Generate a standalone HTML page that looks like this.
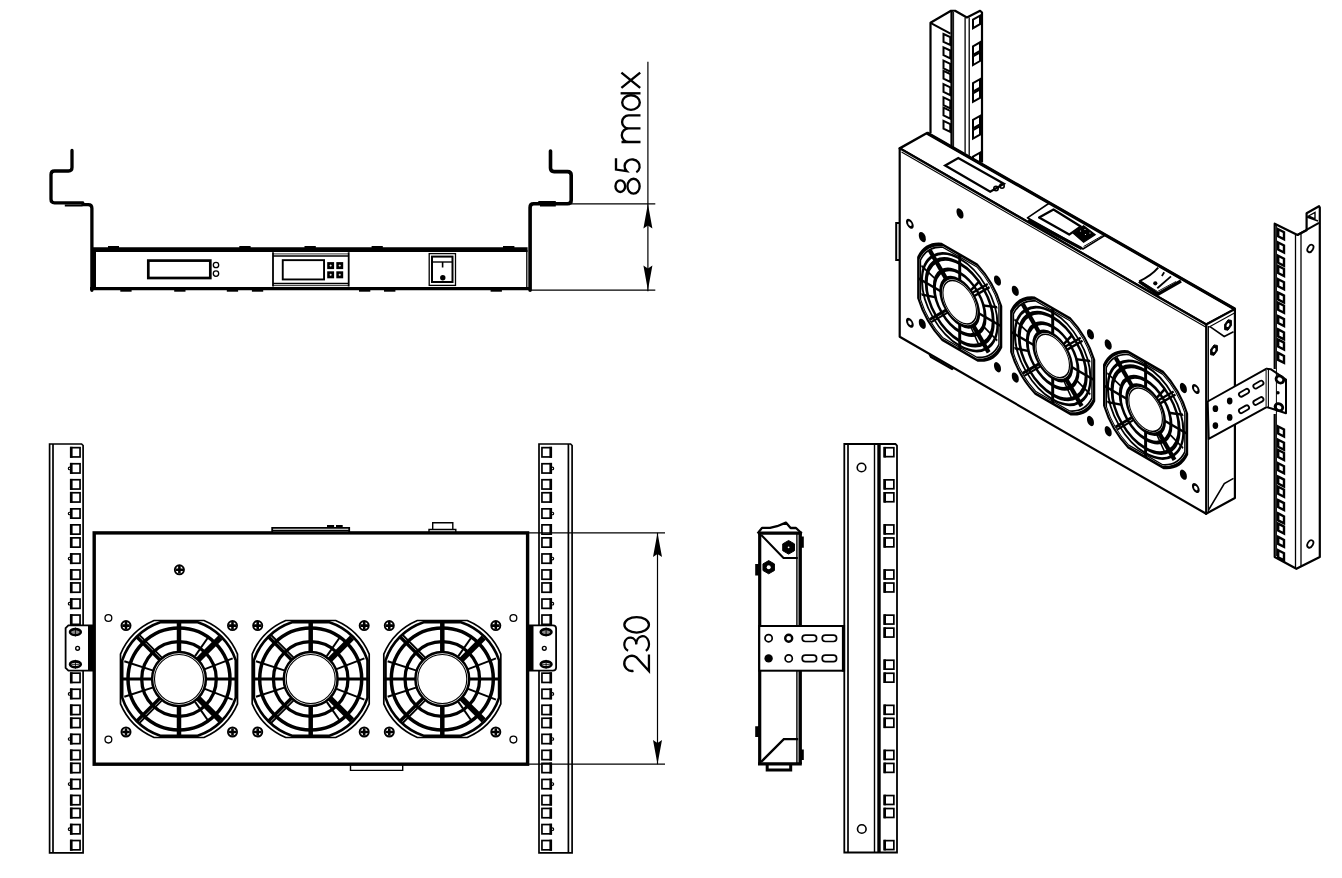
<!DOCTYPE html><html><head><meta charset="utf-8"><title>Fan unit drawing</title><style>html,body{margin:0;padding:0;background:#fff;width:1342px;height:878px;overflow:hidden}svg{display:block}text{font-family:"Liberation Sans",sans-serif}</style></head><body><svg width="1342" height="878" viewBox="0 0 1342 878" stroke-linecap="butt"><path d="M72,150.5 V167.5 Q72,171 68.5,171 H54.5 Q51,171 51,174.5 V199.3 Q51,202.8 54.5,202.8 H82.7 L83,204.6 H88.2 Q91.9,204.6 91.9,208.3 V290.3" fill="none" stroke="#000" stroke-width="3.3" stroke-linejoin="round" stroke-linecap="round"/><path d="M550.5,151 V168 Q550.5,171.6 554.1,171.6 H567.5 Q571.2,171.6 571.2,175.3 V200.2 Q571.2,203.8 567.5,203.8 H533.7 Q530.1,203.8 530.1,207.4 V290.3" fill="none" stroke="#000" stroke-width="3.6" stroke-linejoin="round" stroke-linecap="round"/><path d="M64.8,205.6 H82.7 M538.3,202 H555.8 M540,205.6 H555.8" stroke="#000" stroke-width="2"/><line x1="92" y1="249.6" x2="527.6" y2="249.6" stroke="#000" stroke-width="4.6"/><line x1="90" y1="288.7" x2="531" y2="288.7" stroke="#000" stroke-width="3.3"/><line x1="94.3" y1="249" x2="94.3" y2="289" stroke="#000" stroke-width="3.4"/><line x1="526.8" y1="250" x2="526.8" y2="289" stroke="#000" stroke-width="1.3"/><rect x="108" y="246" width="11" height="2" fill="#000"/><rect x="239.3" y="246" width="11.3" height="2" fill="#000"/><rect x="304.5" y="246" width="11.3" height="2" fill="#000"/><rect x="371.6" y="246" width="11.2" height="2" fill="#000"/><rect x="503" y="246" width="11.4" height="2" fill="#000"/><rect x="120.3" y="289.5" width="11.3" height="2.2" fill="#000"/><rect x="174.2" y="289.5" width="11.3" height="2.2" fill="#000"/><rect x="226.8" y="289.5" width="11.3" height="2.2" fill="#000"/><rect x="251.9" y="289.5" width="11.3" height="2.2" fill="#000"/><rect x="359" y="289.5" width="11.3" height="2.2" fill="#000"/><rect x="384" y="289.5" width="11.4" height="2.2" fill="#000"/><rect x="490.6" y="289.5" width="11.3" height="2.2" fill="#000"/><rect x="148.3" y="260.6" width="62" height="17.4" fill="none" stroke="#000" stroke-width="2.7"/><circle cx="216" cy="265" r="2.7" fill="none" stroke="#000" stroke-width="1.3"/><circle cx="216" cy="273.6" r="2.7" fill="none" stroke="#000" stroke-width="1.3"/><path d="M273,252.2 V286.6 M348.7,252.2 V286.6" stroke="#000" stroke-width="1.8"/><path d="M273,253.9 H348.7 M273,285.6 H348.7" stroke="#000" stroke-width="0.8"/><path d="M273,256 H348.7 M273,283.5 H348.7" stroke="#000" stroke-width="1.3"/><rect x="282.75" y="260.15" width="41.3" height="19.3" fill="none" stroke="#000" stroke-width="1.9"/><rect x="327.2" y="262.1" width="6.9" height="7" fill="#000"/><path d="M329.6,265.6H331.7M330.65,264.55V266.65" stroke="#fff" stroke-width="0.8"/><rect x="327.2" y="271.3" width="6.9" height="7" fill="#000"/><path d="M329.6,274.8H331.7M330.65,273.75V275.85" stroke="#fff" stroke-width="0.8"/><rect x="336.3" y="262.1" width="6.9" height="7" fill="#000"/><path d="M338.7,265.6H340.8M339.75,264.55V266.65" stroke="#fff" stroke-width="0.8"/><rect x="336.3" y="271.3" width="6.9" height="7" fill="#000"/><path d="M338.7,274.8H340.8M339.75,273.75V275.85" stroke="#fff" stroke-width="0.8"/><rect x="429.2" y="253.6" width="26.3" height="31.8" fill="none" stroke="#000" stroke-width="1.3"/><rect x="432" y="256.6" width="20.5" height="25.4" fill="none" stroke="#000" stroke-width="2"/><line x1="432" y1="262" x2="452.5" y2="262" stroke="#000" stroke-width="1.4"/><line x1="442.6" y1="262" x2="442.6" y2="267.5" stroke="#000" stroke-width="1.6"/><circle cx="442.8" cy="277.8" r="2.7" fill="#000"/><line x1="647.9" y1="61.8" x2="647.9" y2="291.3" stroke="#000" stroke-width="1.2"/><line x1="571" y1="203.8" x2="655.3" y2="203.8" stroke="#000" stroke-width="1.2"/><line x1="530" y1="290.2" x2="655.3" y2="290.2" stroke="#000" stroke-width="1.2"/><path d="M647.9,203.8 L652.4,228.5 L647.9,225.5 L643.4,228.5 Z" fill="#000"/><path d="M647.9,290.2 L652.4,265.5 L647.9,268.5 L643.4,265.5 Z" fill="#000"/><g transform="translate(640.8,194.7) rotate(-90)" fill="none" stroke="#000" stroke-width="2.35"><ellipse cx="8.55" cy="-20.5" rx="5.85" ry="4.85"/><ellipse cx="8.55" cy="-7.25" rx="7.4" ry="6.1"/><path d="M36.4,-24.8 H25.1 L23.6,-14.2 A6.95,7.55 0 1 1 22.5,-4.5"/><path d="M52.7,-0.3 V-19.3 M52.7,-12.2 A6.8,6.8 0 0 1 66.3,-12.2 V-0.3 M66.3,-12.2 A6.5,6.5 0 0 1 79.3,-12.2 V-0.3"/><ellipse cx="92.2" cy="-9.8" rx="7.3" ry="8.8"/><path d="M101.4,-20.2 V-0.3"/><path d="M106.8,-19.4 L122,-0.6 M122,-19.4 L106.8,-0.6"/></g><path d="M49.6,852.8 V444 H81.6 L83.1,445.5 V852.8 Z" fill="none" stroke="#000" stroke-width="1.7"/><line x1="53" y1="444" x2="53" y2="852.8" stroke="#000" stroke-width="1.7"/><rect x="70.75" y="447.65" width="9.3" height="9.3" fill="none" stroke="#000" stroke-width="1.7"/><line x1="71.3" y1="446.8" x2="71.3" y2="457.8" stroke="#000" stroke-width="2.6"/><rect x="70.75" y="463.75" width="9.3" height="9.3" fill="none" stroke="#000" stroke-width="1.7"/><line x1="71.3" y1="462.9" x2="71.3" y2="473.9" stroke="#000" stroke-width="2.6"/><circle cx="69.6" cy="468.4" r="1.3" fill="none" stroke="#000" stroke-width="1.1"/><rect x="70.75" y="479.75" width="9.3" height="9.3" fill="none" stroke="#000" stroke-width="1.7"/><line x1="71.3" y1="478.9" x2="71.3" y2="489.9" stroke="#000" stroke-width="2.6"/><rect x="70.75" y="492.75" width="9.3" height="9.3" fill="none" stroke="#000" stroke-width="1.7"/><line x1="71.3" y1="491.9" x2="71.3" y2="502.9" stroke="#000" stroke-width="2.6"/><rect x="70.75" y="508.85" width="9.3" height="9.3" fill="none" stroke="#000" stroke-width="1.7"/><line x1="71.3" y1="508" x2="71.3" y2="519" stroke="#000" stroke-width="2.6"/><circle cx="69.6" cy="513.5" r="1.3" fill="none" stroke="#000" stroke-width="1.1"/><rect x="70.75" y="524.85" width="9.3" height="9.3" fill="none" stroke="#000" stroke-width="1.7"/><line x1="71.3" y1="524" x2="71.3" y2="535" stroke="#000" stroke-width="2.6"/><rect x="70.75" y="537.85" width="9.3" height="9.3" fill="none" stroke="#000" stroke-width="1.7"/><line x1="71.3" y1="537" x2="71.3" y2="548" stroke="#000" stroke-width="2.6"/><rect x="70.75" y="553.95" width="9.3" height="9.3" fill="none" stroke="#000" stroke-width="1.7"/><line x1="71.3" y1="553.1" x2="71.3" y2="564.1" stroke="#000" stroke-width="2.6"/><circle cx="69.6" cy="558.6" r="1.3" fill="none" stroke="#000" stroke-width="1.1"/><rect x="70.75" y="569.95" width="9.3" height="9.3" fill="none" stroke="#000" stroke-width="1.7"/><line x1="71.3" y1="569.1" x2="71.3" y2="580.1" stroke="#000" stroke-width="2.6"/><rect x="70.75" y="582.95" width="9.3" height="9.3" fill="none" stroke="#000" stroke-width="1.7"/><line x1="71.3" y1="582.1" x2="71.3" y2="593.1" stroke="#000" stroke-width="2.6"/><rect x="70.75" y="599.05" width="9.3" height="9.3" fill="none" stroke="#000" stroke-width="1.7"/><line x1="71.3" y1="598.2" x2="71.3" y2="609.2" stroke="#000" stroke-width="2.6"/><circle cx="69.6" cy="603.7" r="1.3" fill="none" stroke="#000" stroke-width="1.1"/><rect x="70.75" y="615.05" width="9.3" height="9.3" fill="none" stroke="#000" stroke-width="1.7"/><line x1="71.3" y1="614.2" x2="71.3" y2="625.2" stroke="#000" stroke-width="2.6"/><rect x="70.75" y="628.05" width="9.3" height="9.3" fill="none" stroke="#000" stroke-width="1.7"/><line x1="71.3" y1="627.2" x2="71.3" y2="638.2" stroke="#000" stroke-width="2.6"/><rect x="70.75" y="644.15" width="9.3" height="9.3" fill="none" stroke="#000" stroke-width="1.7"/><line x1="71.3" y1="643.3" x2="71.3" y2="654.3" stroke="#000" stroke-width="2.6"/><circle cx="69.6" cy="648.8" r="1.3" fill="none" stroke="#000" stroke-width="1.1"/><rect x="70.75" y="660.15" width="9.3" height="9.3" fill="none" stroke="#000" stroke-width="1.7"/><line x1="71.3" y1="659.3" x2="71.3" y2="670.3" stroke="#000" stroke-width="2.6"/><rect x="70.75" y="673.15" width="9.3" height="9.3" fill="none" stroke="#000" stroke-width="1.7"/><line x1="71.3" y1="672.3" x2="71.3" y2="683.3" stroke="#000" stroke-width="2.6"/><rect x="70.75" y="689.25" width="9.3" height="9.3" fill="none" stroke="#000" stroke-width="1.7"/><line x1="71.3" y1="688.4" x2="71.3" y2="699.4" stroke="#000" stroke-width="2.6"/><circle cx="69.6" cy="693.9" r="1.3" fill="none" stroke="#000" stroke-width="1.1"/><rect x="70.75" y="705.25" width="9.3" height="9.3" fill="none" stroke="#000" stroke-width="1.7"/><line x1="71.3" y1="704.4" x2="71.3" y2="715.4" stroke="#000" stroke-width="2.6"/><rect x="70.75" y="718.25" width="9.3" height="9.3" fill="none" stroke="#000" stroke-width="1.7"/><line x1="71.3" y1="717.4" x2="71.3" y2="728.4" stroke="#000" stroke-width="2.6"/><rect x="70.75" y="734.35" width="9.3" height="9.3" fill="none" stroke="#000" stroke-width="1.7"/><line x1="71.3" y1="733.5" x2="71.3" y2="744.5" stroke="#000" stroke-width="2.6"/><circle cx="69.6" cy="739" r="1.3" fill="none" stroke="#000" stroke-width="1.1"/><rect x="70.75" y="750.35" width="9.3" height="9.3" fill="none" stroke="#000" stroke-width="1.7"/><line x1="71.3" y1="749.5" x2="71.3" y2="760.5" stroke="#000" stroke-width="2.6"/><rect x="70.75" y="763.35" width="9.3" height="9.3" fill="none" stroke="#000" stroke-width="1.7"/><line x1="71.3" y1="762.5" x2="71.3" y2="773.5" stroke="#000" stroke-width="2.6"/><rect x="70.75" y="779.45" width="9.3" height="9.3" fill="none" stroke="#000" stroke-width="1.7"/><line x1="71.3" y1="778.6" x2="71.3" y2="789.6" stroke="#000" stroke-width="2.6"/><circle cx="69.6" cy="784.1" r="1.3" fill="none" stroke="#000" stroke-width="1.1"/><rect x="70.75" y="795.45" width="9.3" height="9.3" fill="none" stroke="#000" stroke-width="1.7"/><line x1="71.3" y1="794.6" x2="71.3" y2="805.6" stroke="#000" stroke-width="2.6"/><rect x="70.75" y="808.45" width="9.3" height="9.3" fill="none" stroke="#000" stroke-width="1.7"/><line x1="71.3" y1="807.6" x2="71.3" y2="818.6" stroke="#000" stroke-width="2.6"/><rect x="70.75" y="824.55" width="9.3" height="9.3" fill="none" stroke="#000" stroke-width="1.7"/><line x1="71.3" y1="823.7" x2="71.3" y2="834.7" stroke="#000" stroke-width="2.6"/><circle cx="69.6" cy="829.2" r="1.3" fill="none" stroke="#000" stroke-width="1.1"/><rect x="70.75" y="840.55" width="9.3" height="9.3" fill="none" stroke="#000" stroke-width="1.7"/><line x1="71.3" y1="839.7" x2="71.3" y2="850.7" stroke="#000" stroke-width="2.6"/><path d="M539,852.8 V444 H570.6 L572.1,445.5 V852.8 Z" fill="none" stroke="#000" stroke-width="1.7"/><line x1="568.4" y1="444" x2="568.4" y2="852.8" stroke="#000" stroke-width="1.7"/><rect x="541.95" y="447.65" width="9.3" height="9.3" fill="none" stroke="#000" stroke-width="1.7"/><line x1="550.7" y1="446.8" x2="550.7" y2="457.8" stroke="#000" stroke-width="2.6"/><rect x="541.95" y="463.75" width="9.3" height="9.3" fill="none" stroke="#000" stroke-width="1.7"/><line x1="550.7" y1="462.9" x2="550.7" y2="473.9" stroke="#000" stroke-width="2.6"/><circle cx="552.4" cy="468.4" r="1.3" fill="none" stroke="#000" stroke-width="1.1"/><rect x="541.95" y="479.75" width="9.3" height="9.3" fill="none" stroke="#000" stroke-width="1.7"/><line x1="550.7" y1="478.9" x2="550.7" y2="489.9" stroke="#000" stroke-width="2.6"/><rect x="541.95" y="492.75" width="9.3" height="9.3" fill="none" stroke="#000" stroke-width="1.7"/><line x1="550.7" y1="491.9" x2="550.7" y2="502.9" stroke="#000" stroke-width="2.6"/><rect x="541.95" y="508.85" width="9.3" height="9.3" fill="none" stroke="#000" stroke-width="1.7"/><line x1="550.7" y1="508" x2="550.7" y2="519" stroke="#000" stroke-width="2.6"/><circle cx="552.4" cy="513.5" r="1.3" fill="none" stroke="#000" stroke-width="1.1"/><rect x="541.95" y="524.85" width="9.3" height="9.3" fill="none" stroke="#000" stroke-width="1.7"/><line x1="550.7" y1="524" x2="550.7" y2="535" stroke="#000" stroke-width="2.6"/><rect x="541.95" y="537.85" width="9.3" height="9.3" fill="none" stroke="#000" stroke-width="1.7"/><line x1="550.7" y1="537" x2="550.7" y2="548" stroke="#000" stroke-width="2.6"/><rect x="541.95" y="553.95" width="9.3" height="9.3" fill="none" stroke="#000" stroke-width="1.7"/><line x1="550.7" y1="553.1" x2="550.7" y2="564.1" stroke="#000" stroke-width="2.6"/><circle cx="552.4" cy="558.6" r="1.3" fill="none" stroke="#000" stroke-width="1.1"/><rect x="541.95" y="569.95" width="9.3" height="9.3" fill="none" stroke="#000" stroke-width="1.7"/><line x1="550.7" y1="569.1" x2="550.7" y2="580.1" stroke="#000" stroke-width="2.6"/><rect x="541.95" y="582.95" width="9.3" height="9.3" fill="none" stroke="#000" stroke-width="1.7"/><line x1="550.7" y1="582.1" x2="550.7" y2="593.1" stroke="#000" stroke-width="2.6"/><rect x="541.95" y="599.05" width="9.3" height="9.3" fill="none" stroke="#000" stroke-width="1.7"/><line x1="550.7" y1="598.2" x2="550.7" y2="609.2" stroke="#000" stroke-width="2.6"/><circle cx="552.4" cy="603.7" r="1.3" fill="none" stroke="#000" stroke-width="1.1"/><rect x="541.95" y="615.05" width="9.3" height="9.3" fill="none" stroke="#000" stroke-width="1.7"/><line x1="550.7" y1="614.2" x2="550.7" y2="625.2" stroke="#000" stroke-width="2.6"/><rect x="541.95" y="628.05" width="9.3" height="9.3" fill="none" stroke="#000" stroke-width="1.7"/><line x1="550.7" y1="627.2" x2="550.7" y2="638.2" stroke="#000" stroke-width="2.6"/><rect x="541.95" y="644.15" width="9.3" height="9.3" fill="none" stroke="#000" stroke-width="1.7"/><line x1="550.7" y1="643.3" x2="550.7" y2="654.3" stroke="#000" stroke-width="2.6"/><circle cx="552.4" cy="648.8" r="1.3" fill="none" stroke="#000" stroke-width="1.1"/><rect x="541.95" y="660.15" width="9.3" height="9.3" fill="none" stroke="#000" stroke-width="1.7"/><line x1="550.7" y1="659.3" x2="550.7" y2="670.3" stroke="#000" stroke-width="2.6"/><rect x="541.95" y="673.15" width="9.3" height="9.3" fill="none" stroke="#000" stroke-width="1.7"/><line x1="550.7" y1="672.3" x2="550.7" y2="683.3" stroke="#000" stroke-width="2.6"/><rect x="541.95" y="689.25" width="9.3" height="9.3" fill="none" stroke="#000" stroke-width="1.7"/><line x1="550.7" y1="688.4" x2="550.7" y2="699.4" stroke="#000" stroke-width="2.6"/><circle cx="552.4" cy="693.9" r="1.3" fill="none" stroke="#000" stroke-width="1.1"/><rect x="541.95" y="705.25" width="9.3" height="9.3" fill="none" stroke="#000" stroke-width="1.7"/><line x1="550.7" y1="704.4" x2="550.7" y2="715.4" stroke="#000" stroke-width="2.6"/><rect x="541.95" y="718.25" width="9.3" height="9.3" fill="none" stroke="#000" stroke-width="1.7"/><line x1="550.7" y1="717.4" x2="550.7" y2="728.4" stroke="#000" stroke-width="2.6"/><rect x="541.95" y="734.35" width="9.3" height="9.3" fill="none" stroke="#000" stroke-width="1.7"/><line x1="550.7" y1="733.5" x2="550.7" y2="744.5" stroke="#000" stroke-width="2.6"/><circle cx="552.4" cy="739" r="1.3" fill="none" stroke="#000" stroke-width="1.1"/><rect x="541.95" y="750.35" width="9.3" height="9.3" fill="none" stroke="#000" stroke-width="1.7"/><line x1="550.7" y1="749.5" x2="550.7" y2="760.5" stroke="#000" stroke-width="2.6"/><rect x="541.95" y="763.35" width="9.3" height="9.3" fill="none" stroke="#000" stroke-width="1.7"/><line x1="550.7" y1="762.5" x2="550.7" y2="773.5" stroke="#000" stroke-width="2.6"/><rect x="541.95" y="779.45" width="9.3" height="9.3" fill="none" stroke="#000" stroke-width="1.7"/><line x1="550.7" y1="778.6" x2="550.7" y2="789.6" stroke="#000" stroke-width="2.6"/><circle cx="552.4" cy="784.1" r="1.3" fill="none" stroke="#000" stroke-width="1.1"/><rect x="541.95" y="795.45" width="9.3" height="9.3" fill="none" stroke="#000" stroke-width="1.7"/><line x1="550.7" y1="794.6" x2="550.7" y2="805.6" stroke="#000" stroke-width="2.6"/><rect x="541.95" y="808.45" width="9.3" height="9.3" fill="none" stroke="#000" stroke-width="1.7"/><line x1="550.7" y1="807.6" x2="550.7" y2="818.6" stroke="#000" stroke-width="2.6"/><rect x="541.95" y="824.55" width="9.3" height="9.3" fill="none" stroke="#000" stroke-width="1.7"/><line x1="550.7" y1="823.7" x2="550.7" y2="834.7" stroke="#000" stroke-width="2.6"/><circle cx="552.4" cy="829.2" r="1.3" fill="none" stroke="#000" stroke-width="1.1"/><rect x="541.95" y="840.55" width="9.3" height="9.3" fill="none" stroke="#000" stroke-width="1.7"/><line x1="550.7" y1="839.7" x2="550.7" y2="850.7" stroke="#000" stroke-width="2.6"/><rect x="94.2" y="532.9" width="433.4" height="231.3" fill="none" stroke="#000" stroke-width="3.4"/><path d="M272.2,532.8 V527.8 H349.2 V532.8" fill="none" stroke="#000" stroke-width="1.8"/><path d="M272.2,530.4 H349.2" fill="none" stroke="#000" stroke-width="1.1"/><path d="M327,526 H334.1 M336,526 H342.7" fill="none" stroke="#000" stroke-width="2"/><path d="M429,532.8 V529.5 H455.8 V532.8 M432.7,529.5 V522.7 H452.8 V529.5" fill="none" stroke="#000" stroke-width="1.4"/><path d="M350.5,764.2 V770.4 H402.7 V764.2" fill="none" stroke="#000" stroke-width="1.4"/><path d="M92.5,625.4 H68.4 L65.6,628.2 V667.8 L68.4,670.6 H92.5 Z" fill="#fff" stroke="#000" stroke-width="1.8"/><rect x="88" y="625.4" width="4.6" height="45.2" fill="#000"/><path d="M529,625.4 H552.9 Q556.1,625.4 556.1,628.6 V667.4 Q556.1,670.6 552.9,670.6 H529 Z" fill="#fff" stroke="#000" stroke-width="1.8"/><rect x="528.7" y="625.4" width="4.8" height="45.2" fill="#000"/><ellipse cx="75.4" cy="632" rx="5.4" ry="2.9" fill="none" stroke="#000" stroke-width="2.6"/><path d="M71.4,632H79.4M75.4,627.5V636.5" stroke="#000" stroke-width="0.9"/><ellipse cx="75.4" cy="664.3" rx="5.4" ry="2.9" fill="none" stroke="#000" stroke-width="2.6"/><path d="M71.4,664.3H79.4M75.4,659.8V668.8" stroke="#000" stroke-width="0.9"/><circle cx="77.6" cy="648.3" r="1.9" fill="none" stroke="#000" stroke-width="1.4"/><ellipse cx="546.1" cy="632" rx="5.4" ry="2.9" fill="none" stroke="#000" stroke-width="2.6"/><path d="M542.1,632H550.1M546.1,627.5V636.5" stroke="#000" stroke-width="0.9"/><ellipse cx="546.1" cy="664.3" rx="5.4" ry="2.9" fill="none" stroke="#000" stroke-width="2.6"/><path d="M542.1,664.3H550.1M546.1,659.8V668.8" stroke="#000" stroke-width="0.9"/><circle cx="544.3" cy="648.3" r="1.9" fill="none" stroke="#000" stroke-width="1.4"/><g transform="translate(179,679)"><path d="M-24.95,-58.5 L24.95,-58.5 A63.6,63.6 0 0 1 58.5,-24.95 L58.5,24.95 A63.6,63.6 0 0 1 24.95,58.5 L-24.95,58.5 A63.6,63.6 0 0 1 -58.5,24.95 L-58.5,-24.95 A63.6,63.6 0 0 1 -24.95,-58.5 Z" fill="none" stroke="#000" stroke-width="1.7"/><path d="M-18.7,-56.8 L18.7,-56.8 A59.8,59.8 0 0 1 56.8,-18.7 L56.8,18.7 A59.8,59.8 0 0 1 18.7,56.8 L-18.7,56.8 A59.8,59.8 0 0 1 -56.8,18.7 L-56.8,-18.7 A59.8,59.8 0 0 1 -18.7,-56.8 Z" fill="none" stroke="#000" stroke-width="2.6"/><circle r="51" fill="none" stroke="#000" stroke-width="3.5"/><circle r="37.3" fill="none" stroke="#000" stroke-width="3.3"/><circle r="26.9" fill="none" stroke="#000" stroke-width="2.5"/><circle r="24.5" fill="none" stroke="#000" stroke-width="1.1"/><line x1="0" y1="-26" x2="0" y2="-58.5" stroke="#000" stroke-width="4.5"/><line x1="0" y1="26" x2="0" y2="58.5" stroke="#000" stroke-width="4.5"/><line x1="26" y1="0" x2="58" y2="0" stroke="#000" stroke-width="3.0"/><line x1="-26" y1="0" x2="-58" y2="0" stroke="#000" stroke-width="3.0"/><line x1="25.21" y1="-9.68" x2="53.68" y2="-20.61" stroke="#000" stroke-width="2.0"/><line x1="25.21" y1="9.68" x2="53.68" y2="20.61" stroke="#000" stroke-width="2.0"/><line x1="-25.68" y1="8.34" x2="-54.69" y2="17.77" stroke="#000" stroke-width="2.0"/><line x1="-25.68" y1="-8.34" x2="-54.69" y2="-17.77" stroke="#000" stroke-width="2.0"/><line x1="18.74" y1="-18.74" x2="41.37" y2="-41.37" stroke="#000" stroke-width="5.8"/><line x1="18.74" y1="18.74" x2="41.37" y2="41.37" stroke="#000" stroke-width="5.8"/><line x1="16.06" y1="-22.94" x2="29.02" y2="-41.45" stroke="#000" stroke-width="2.0"/><line x1="16.06" y1="22.94" x2="29.02" y2="41.45" stroke="#000" stroke-width="2.0"/><line x1="-18.74" y1="-18.74" x2="-42.07" y2="-42.07" stroke="#000" stroke-width="3.4"/><line x1="-16.55" y1="-20.93" x2="-39.88" y2="-44.26" stroke="#000" stroke-width="1.8"/><line x1="-18.74" y1="18.74" x2="-42.07" y2="42.07" stroke="#000" stroke-width="3.4"/><line x1="-16.55" y1="20.93" x2="-39.88" y2="44.26" stroke="#000" stroke-width="1.8"/></g><g transform="translate(126,625.6)"><circle r="4.6" fill="none" stroke="#000" stroke-width="1.8"/><path d="M-3.8,0H3.8M0,-3.8V3.8" stroke="#000" stroke-width="2.6"/></g><g transform="translate(126,732)"><circle r="4.6" fill="none" stroke="#000" stroke-width="1.8"/><path d="M-3.8,0H3.8M0,-3.8V3.8" stroke="#000" stroke-width="2.6"/></g><g transform="translate(232.5,625.6)"><circle r="4.6" fill="none" stroke="#000" stroke-width="1.8"/><path d="M-3.8,0H3.8M0,-3.8V3.8" stroke="#000" stroke-width="2.6"/></g><g transform="translate(232.5,732)"><circle r="4.6" fill="none" stroke="#000" stroke-width="1.8"/><path d="M-3.8,0H3.8M0,-3.8V3.8" stroke="#000" stroke-width="2.6"/></g><g transform="translate(310.7,679)"><path d="M-24.95,-58.5 L24.95,-58.5 A63.6,63.6 0 0 1 58.5,-24.95 L58.5,24.95 A63.6,63.6 0 0 1 24.95,58.5 L-24.95,58.5 A63.6,63.6 0 0 1 -58.5,24.95 L-58.5,-24.95 A63.6,63.6 0 0 1 -24.95,-58.5 Z" fill="none" stroke="#000" stroke-width="1.7"/><path d="M-18.7,-56.8 L18.7,-56.8 A59.8,59.8 0 0 1 56.8,-18.7 L56.8,18.7 A59.8,59.8 0 0 1 18.7,56.8 L-18.7,56.8 A59.8,59.8 0 0 1 -56.8,18.7 L-56.8,-18.7 A59.8,59.8 0 0 1 -18.7,-56.8 Z" fill="none" stroke="#000" stroke-width="2.6"/><circle r="51" fill="none" stroke="#000" stroke-width="3.5"/><circle r="37.3" fill="none" stroke="#000" stroke-width="3.3"/><circle r="26.9" fill="none" stroke="#000" stroke-width="2.5"/><circle r="24.5" fill="none" stroke="#000" stroke-width="1.1"/><line x1="0" y1="-26" x2="0" y2="-58.5" stroke="#000" stroke-width="4.5"/><line x1="0" y1="26" x2="0" y2="58.5" stroke="#000" stroke-width="4.5"/><line x1="26" y1="0" x2="58" y2="0" stroke="#000" stroke-width="3.0"/><line x1="-26" y1="0" x2="-58" y2="0" stroke="#000" stroke-width="3.0"/><line x1="25.21" y1="-9.68" x2="53.68" y2="-20.61" stroke="#000" stroke-width="2.0"/><line x1="25.21" y1="9.68" x2="53.68" y2="20.61" stroke="#000" stroke-width="2.0"/><line x1="-25.68" y1="8.34" x2="-54.69" y2="17.77" stroke="#000" stroke-width="2.0"/><line x1="-25.68" y1="-8.34" x2="-54.69" y2="-17.77" stroke="#000" stroke-width="2.0"/><line x1="18.74" y1="-18.74" x2="41.37" y2="-41.37" stroke="#000" stroke-width="5.8"/><line x1="18.74" y1="18.74" x2="41.37" y2="41.37" stroke="#000" stroke-width="5.8"/><line x1="16.06" y1="-22.94" x2="29.02" y2="-41.45" stroke="#000" stroke-width="2.0"/><line x1="16.06" y1="22.94" x2="29.02" y2="41.45" stroke="#000" stroke-width="2.0"/><line x1="-18.74" y1="-18.74" x2="-42.07" y2="-42.07" stroke="#000" stroke-width="3.4"/><line x1="-16.55" y1="-20.93" x2="-39.88" y2="-44.26" stroke="#000" stroke-width="1.8"/><line x1="-18.74" y1="18.74" x2="-42.07" y2="42.07" stroke="#000" stroke-width="3.4"/><line x1="-16.55" y1="20.93" x2="-39.88" y2="44.26" stroke="#000" stroke-width="1.8"/></g><g transform="translate(257.7,625.6)"><circle r="4.6" fill="none" stroke="#000" stroke-width="1.8"/><path d="M-3.8,0H3.8M0,-3.8V3.8" stroke="#000" stroke-width="2.6"/></g><g transform="translate(257.7,732)"><circle r="4.6" fill="none" stroke="#000" stroke-width="1.8"/><path d="M-3.8,0H3.8M0,-3.8V3.8" stroke="#000" stroke-width="2.6"/></g><g transform="translate(364.2,625.6)"><circle r="4.6" fill="none" stroke="#000" stroke-width="1.8"/><path d="M-3.8,0H3.8M0,-3.8V3.8" stroke="#000" stroke-width="2.6"/></g><g transform="translate(364.2,732)"><circle r="4.6" fill="none" stroke="#000" stroke-width="1.8"/><path d="M-3.8,0H3.8M0,-3.8V3.8" stroke="#000" stroke-width="2.6"/></g><g transform="translate(442.3,679)"><path d="M-24.95,-58.5 L24.95,-58.5 A63.6,63.6 0 0 1 58.5,-24.95 L58.5,24.95 A63.6,63.6 0 0 1 24.95,58.5 L-24.95,58.5 A63.6,63.6 0 0 1 -58.5,24.95 L-58.5,-24.95 A63.6,63.6 0 0 1 -24.95,-58.5 Z" fill="none" stroke="#000" stroke-width="1.7"/><path d="M-18.7,-56.8 L18.7,-56.8 A59.8,59.8 0 0 1 56.8,-18.7 L56.8,18.7 A59.8,59.8 0 0 1 18.7,56.8 L-18.7,56.8 A59.8,59.8 0 0 1 -56.8,18.7 L-56.8,-18.7 A59.8,59.8 0 0 1 -18.7,-56.8 Z" fill="none" stroke="#000" stroke-width="2.6"/><circle r="51" fill="none" stroke="#000" stroke-width="3.5"/><circle r="37.3" fill="none" stroke="#000" stroke-width="3.3"/><circle r="26.9" fill="none" stroke="#000" stroke-width="2.5"/><circle r="24.5" fill="none" stroke="#000" stroke-width="1.1"/><line x1="0" y1="-26" x2="0" y2="-58.5" stroke="#000" stroke-width="4.5"/><line x1="0" y1="26" x2="0" y2="58.5" stroke="#000" stroke-width="4.5"/><line x1="26" y1="0" x2="58" y2="0" stroke="#000" stroke-width="3.0"/><line x1="-26" y1="0" x2="-58" y2="0" stroke="#000" stroke-width="3.0"/><line x1="25.21" y1="-9.68" x2="53.68" y2="-20.61" stroke="#000" stroke-width="2.0"/><line x1="25.21" y1="9.68" x2="53.68" y2="20.61" stroke="#000" stroke-width="2.0"/><line x1="-25.68" y1="8.34" x2="-54.69" y2="17.77" stroke="#000" stroke-width="2.0"/><line x1="-25.68" y1="-8.34" x2="-54.69" y2="-17.77" stroke="#000" stroke-width="2.0"/><line x1="18.74" y1="-18.74" x2="41.37" y2="-41.37" stroke="#000" stroke-width="5.8"/><line x1="18.74" y1="18.74" x2="41.37" y2="41.37" stroke="#000" stroke-width="5.8"/><line x1="16.06" y1="-22.94" x2="29.02" y2="-41.45" stroke="#000" stroke-width="2.0"/><line x1="16.06" y1="22.94" x2="29.02" y2="41.45" stroke="#000" stroke-width="2.0"/><line x1="-18.74" y1="-18.74" x2="-42.07" y2="-42.07" stroke="#000" stroke-width="3.4"/><line x1="-16.55" y1="-20.93" x2="-39.88" y2="-44.26" stroke="#000" stroke-width="1.8"/><line x1="-18.74" y1="18.74" x2="-42.07" y2="42.07" stroke="#000" stroke-width="3.4"/><line x1="-16.55" y1="20.93" x2="-39.88" y2="44.26" stroke="#000" stroke-width="1.8"/></g><g transform="translate(389.3,625.6)"><circle r="4.6" fill="none" stroke="#000" stroke-width="1.8"/><path d="M-3.8,0H3.8M0,-3.8V3.8" stroke="#000" stroke-width="2.6"/></g><g transform="translate(389.3,732)"><circle r="4.6" fill="none" stroke="#000" stroke-width="1.8"/><path d="M-3.8,0H3.8M0,-3.8V3.8" stroke="#000" stroke-width="2.6"/></g><g transform="translate(495.8,625.6)"><circle r="4.6" fill="none" stroke="#000" stroke-width="1.8"/><path d="M-3.8,0H3.8M0,-3.8V3.8" stroke="#000" stroke-width="2.6"/></g><g transform="translate(495.8,732)"><circle r="4.6" fill="none" stroke="#000" stroke-width="1.8"/><path d="M-3.8,0H3.8M0,-3.8V3.8" stroke="#000" stroke-width="2.6"/></g><g transform="translate(179.4,569.8)"><circle r="4.6" fill="none" stroke="#000" stroke-width="1.8"/><path d="M-3.8,0H3.8M0,-3.8V3.8" stroke="#000" stroke-width="2.6"/></g><circle cx="108.4" cy="618" r="3.4" fill="none" stroke="#000" stroke-width="1.3"/><circle cx="108.4" cy="739.6" r="3.4" fill="none" stroke="#000" stroke-width="1.3"/><circle cx="513.4" cy="618" r="3.4" fill="none" stroke="#000" stroke-width="1.3"/><circle cx="513.4" cy="739.6" r="3.4" fill="none" stroke="#000" stroke-width="1.3"/><line x1="657.5" y1="532.8" x2="657.5" y2="764.2" stroke="#000" stroke-width="1.2"/><line x1="528" y1="532.8" x2="665" y2="532.8" stroke="#000" stroke-width="1.2"/><line x1="528" y1="764.2" x2="665" y2="764.2" stroke="#000" stroke-width="1.2"/><path d="M657.5,532.8 L662,557 L657.5,554 L653,557 Z" fill="#000"/><path d="M657.5,764.2 L662,740 L657.5,743 L653,740 Z" fill="#000"/><g transform="translate(650.1,672.4) rotate(-90)" fill="none" stroke="#000" stroke-width="2.3"><path d="M1.6,-16.6 A7.6,7.6 0 1 1 15.2,-13.8 L1.4,-1.15 H17.8"/><path d="M21.6,-22 A6.8,6.0 0 1 1 28,-13.8 A7.9,6.35 0 1 1 21.5,-4.2"/><ellipse cx="47.6" cy="-13.45" rx="7.75" ry="12.3"/></g><path d="M844.3,852.5 V444 H895.5 L897,445.5 V852.5 Z" fill="none" stroke="#000" stroke-width="1.8"/><line x1="848" y1="444" x2="848" y2="852.5" stroke="#000" stroke-width="1.7"/><line x1="874.5" y1="444" x2="874.5" y2="852.5" stroke="#000" stroke-width="1.4"/><line x1="879" y1="444" x2="879" y2="852.5" stroke="#000" stroke-width="3.4"/><circle cx="861.5" cy="467.5" r="4.3" fill="none" stroke="#000" stroke-width="1.6"/><circle cx="861.8" cy="829" r="4.3" fill="none" stroke="#000" stroke-width="1.6"/><rect x="884.25" y="447.75" width="9.6" height="8.9" fill="none" stroke="#000" stroke-width="1.7"/><line x1="884.8" y1="446.9" x2="884.8" y2="457.5" stroke="#000" stroke-width="2.4"/><rect x="884.25" y="479.85" width="9.6" height="8.9" fill="none" stroke="#000" stroke-width="1.7"/><line x1="884.8" y1="479" x2="884.8" y2="489.6" stroke="#000" stroke-width="2.4"/><rect x="884.25" y="492.85" width="9.6" height="8.9" fill="none" stroke="#000" stroke-width="1.7"/><line x1="884.8" y1="492" x2="884.8" y2="502.6" stroke="#000" stroke-width="2.4"/><rect x="884.25" y="524.95" width="9.6" height="8.9" fill="none" stroke="#000" stroke-width="1.7"/><line x1="884.8" y1="524.1" x2="884.8" y2="534.7" stroke="#000" stroke-width="2.4"/><rect x="884.25" y="537.95" width="9.6" height="8.9" fill="none" stroke="#000" stroke-width="1.7"/><line x1="884.8" y1="537.1" x2="884.8" y2="547.7" stroke="#000" stroke-width="2.4"/><rect x="884.25" y="570.05" width="9.6" height="8.9" fill="none" stroke="#000" stroke-width="1.7"/><line x1="884.8" y1="569.2" x2="884.8" y2="579.8" stroke="#000" stroke-width="2.4"/><rect x="884.25" y="583.05" width="9.6" height="8.9" fill="none" stroke="#000" stroke-width="1.7"/><line x1="884.8" y1="582.2" x2="884.8" y2="592.8" stroke="#000" stroke-width="2.4"/><rect x="884.25" y="615.15" width="9.6" height="8.9" fill="none" stroke="#000" stroke-width="1.7"/><line x1="884.8" y1="614.3" x2="884.8" y2="624.9" stroke="#000" stroke-width="2.4"/><rect x="884.25" y="628.15" width="9.6" height="8.9" fill="none" stroke="#000" stroke-width="1.7"/><line x1="884.8" y1="627.3" x2="884.8" y2="637.9" stroke="#000" stroke-width="2.4"/><rect x="884.25" y="660.25" width="9.6" height="8.9" fill="none" stroke="#000" stroke-width="1.7"/><line x1="884.8" y1="659.4" x2="884.8" y2="670" stroke="#000" stroke-width="2.4"/><rect x="884.25" y="673.25" width="9.6" height="8.9" fill="none" stroke="#000" stroke-width="1.7"/><line x1="884.8" y1="672.4" x2="884.8" y2="683" stroke="#000" stroke-width="2.4"/><rect x="884.25" y="705.35" width="9.6" height="8.9" fill="none" stroke="#000" stroke-width="1.7"/><line x1="884.8" y1="704.5" x2="884.8" y2="715.1" stroke="#000" stroke-width="2.4"/><rect x="884.25" y="718.35" width="9.6" height="8.9" fill="none" stroke="#000" stroke-width="1.7"/><line x1="884.8" y1="717.5" x2="884.8" y2="728.1" stroke="#000" stroke-width="2.4"/><rect x="884.25" y="750.45" width="9.6" height="8.9" fill="none" stroke="#000" stroke-width="1.7"/><line x1="884.8" y1="749.6" x2="884.8" y2="760.2" stroke="#000" stroke-width="2.4"/><rect x="884.25" y="763.45" width="9.6" height="8.9" fill="none" stroke="#000" stroke-width="1.7"/><line x1="884.8" y1="762.6" x2="884.8" y2="773.2" stroke="#000" stroke-width="2.4"/><rect x="884.25" y="795.55" width="9.6" height="8.9" fill="none" stroke="#000" stroke-width="1.7"/><line x1="884.8" y1="794.7" x2="884.8" y2="805.3" stroke="#000" stroke-width="2.4"/><rect x="884.25" y="808.55" width="9.6" height="8.9" fill="none" stroke="#000" stroke-width="1.7"/><line x1="884.8" y1="807.7" x2="884.8" y2="818.3" stroke="#000" stroke-width="2.4"/><rect x="884.25" y="840.65" width="9.6" height="8.9" fill="none" stroke="#000" stroke-width="1.7"/><line x1="884.8" y1="839.8" x2="884.8" y2="850.4" stroke="#000" stroke-width="2.4"/><path d="M759.7,533.1 V763.9 M756.8,564 V575.6 M756.8,726.3 V737 M802.2,536.5 V547.7 M802.2,749.4 V760" fill="none" stroke="#000" stroke-width="3.2"/><path d="M758,533.1 H801.8 M758,763.9 H801.8" fill="none" stroke="#000" stroke-width="3.4"/><path d="M800.2,533 V764" fill="none" stroke="#000" stroke-width="3.4"/><path d="M796.9,533 V764" fill="none" stroke="#000" stroke-width="1.4"/><path d="M757.6,533.5 L762,527.9 H770 L777.1,526.2 L785.9,522.6 L790.6,528 H796 L801.8,533.5" fill="none" stroke="#000" stroke-width="2.3" stroke-linejoin="round"/><path d="M761.2,534.9 L783.5,558 H797.8" fill="none" stroke="#000" stroke-width="2.1"/><path d="M761,762 L783.8,739.2 H798.2" fill="none" stroke="#000" stroke-width="2.3"/><path d="M767.2,764 V770.1 H790.7 V764" fill="none" stroke="#000" stroke-width="3"/><polygon points="788.6,554.1 782.71,550.7 782.71,543.9 788.6,540.5 794.49,543.9 794.49,550.7" fill="#000" stroke="#000" stroke-width="1"/><circle cx="788.6" cy="547.3" r="0.9" fill="#fff"/><polygon points="768.7,573.8 762.98,570.5 762.98,563.9 768.7,560.6 774.42,563.9 774.42,570.5" fill="#000" stroke="#000" stroke-width="1"/><circle cx="768.7" cy="567.2" r="2.0" fill="#fff"/><rect x="759.3" y="626" width="84" height="44.7" fill="#fff" stroke="#000" stroke-width="2"/><line x1="843.5" y1="625" x2="843.5" y2="671.6" stroke="#000" stroke-width="3.2"/><circle cx="768.6" cy="638.2" r="3.6" fill="none" stroke="#000" stroke-width="1.7"/><circle cx="788.7" cy="638.2" r="3.5" fill="none" stroke="#000" stroke-width="2.4"/><circle cx="768.6" cy="658.4" r="4.2" fill="#000"/><circle cx="788.7" cy="658.4" r="3.6" fill="none" stroke="#000" stroke-width="1.7"/><rect x="802.1999999999999" y="635.0999999999999" width="14.4" height="6.4" rx="3.2" fill="none" stroke="#000" stroke-width="1.7"/><rect x="822.1999999999999" y="635.0999999999999" width="14.4" height="6.4" rx="3.2" fill="none" stroke="#000" stroke-width="1.7"/><rect x="802.1999999999999" y="655.1999999999999" width="14.4" height="6.4" rx="3.2" fill="none" stroke="#000" stroke-width="1.7"/><rect x="822.1999999999999" y="655.1999999999999" width="14.4" height="6.4" rx="3.2" fill="none" stroke="#000" stroke-width="1.7"/><path d="M930.5,133 V22.8 L951,10.75 H955.1 L966.9,17.5 L980.1,10.75 L982,12.5 V162.6" fill="#fff" stroke="#000" stroke-width="2.2" stroke-linejoin="round"/><path d="M930.5,22.8 L950.5,33.7" fill="none" stroke="#000" stroke-width="2"/><line x1="951.6" y1="10.75" x2="951.6" y2="146.7" stroke="#000" stroke-width="2.4"/><line x1="953.6" y1="12" x2="953.6" y2="148" stroke="#000" stroke-width="1"/><line x1="965.1" y1="17.5" x2="965.1" y2="153" stroke="#000" stroke-width="1.3"/><line x1="969.2" y1="17.5" x2="969.2" y2="155.8" stroke="#000" stroke-width="1.3"/><path d="M943.5,34 L950.3,37.2 V45 L943.5,41.8 Z" fill="none" stroke="#000" stroke-width="2"/><path d="M943.5,47.3 L950.3,50.5 V58.3 L943.5,55.1 Z" fill="none" stroke="#000" stroke-width="2"/><path d="M943.5,60.6 L950.3,63.8 V71.6 L943.5,68.4 Z" fill="none" stroke="#000" stroke-width="2"/><path d="M943.5,70.8 L950.3,74 V81.8 L943.5,78.6 Z" fill="none" stroke="#000" stroke-width="2"/><path d="M943.5,84.1 L950.3,87.3 V95.1 L943.5,91.9 Z" fill="none" stroke="#000" stroke-width="2"/><path d="M943.5,97.4 L950.3,100.6 V108.4 L943.5,105.2 Z" fill="none" stroke="#000" stroke-width="2"/><path d="M943.5,107.6 L950.3,110.8 V118.6 L943.5,115.4 Z" fill="none" stroke="#000" stroke-width="2"/><path d="M943.5,120.9 L950.3,124.1 V131.9 L943.5,128.7 Z" fill="none" stroke="#000" stroke-width="2"/><path d="M973,19.7 L980,15.7 V24.2 L973,28.2 Z" fill="none" stroke="#000" stroke-width="2"/><path d="M973,46.3 L980,42.3 V50.8 L973,54.8 Z" fill="none" stroke="#000" stroke-width="2"/><path d="M973,56.5 L980,52.5 V61 L973,65 Z" fill="none" stroke="#000" stroke-width="2"/><path d="M973,83.1 L980,79.1 V87.6 L973,91.6 Z" fill="none" stroke="#000" stroke-width="2"/><path d="M973,93.3 L980,89.3 V97.8 L973,101.8 Z" fill="none" stroke="#000" stroke-width="2"/><path d="M973,119.9 L980,115.9 V124.4 L973,128.4 Z" fill="none" stroke="#000" stroke-width="2"/><path d="M973,130.1 L980,126.1 V134.6 L973,138.6 Z" fill="none" stroke="#000" stroke-width="2"/><path d="M973,156.7 L980,152.7 V161.2 L973,165.2 Z" fill="none" stroke="#000" stroke-width="2"/><path d="M899.7,148.4 L927,133 L1234.9,309.1 L1206.2,324.5 Z" fill="#fff" stroke="#000" stroke-width="2.4" stroke-linejoin="round"/><path d="M927,133 L1234.9,309.1" fill="none" stroke="#000" stroke-width="3.2"/><path d="M1206.2,324.5 L1234.9,309.1 V498 L1206,513.8 Z" fill="#fff" stroke="#000" stroke-width="2.2" stroke-linejoin="round"/><path d="M899.7,148.4 L1206.2,324.5 V513.8 L899.7,336.7 Z" fill="#fff" stroke="#000" stroke-width="2.2" stroke-linejoin="round"/><path d="M901.5,152 L1206.5,327.5" fill="none" stroke="#000" stroke-width="1.1"/><path d="M1208.2,327.6 L1234,313.2" fill="none" stroke="#000" stroke-width="1.1"/><line x1="1208.4" y1="326" x2="1208.4" y2="512.5" stroke="#000" stroke-width="1.1"/><path d="M1210,326.6 L1224.2,336.5 L1233.5,331.8" fill="none" stroke="#000" stroke-width="1.6"/><path d="M1208.6,509.9 L1224.3,483.6 L1233.5,478.4" fill="none" stroke="#000" stroke-width="1.6"/><path d="M899.7,223 H896.2 V260 H899.7" fill="none" stroke="#000" stroke-width="2"/><path d="M929.5,354.2 L931,357 L952,369 L953.4,367.8" fill="none" stroke="#000" stroke-width="2.2"/><path d="M945.2,165.5 L958.3,158.1 L1003.9,183.7 L990.2,191.7 Z" fill="none" stroke="#000" stroke-width="2.3"/><circle cx="996" cy="188.5" r="2.2" fill="none" stroke="#000" stroke-width="1.6"/><circle cx="1002" cy="186" r="2.2" fill="none" stroke="#000" stroke-width="1.6"/><path d="M1027.4,217.8 L1048.7,203.5 L1104.6,235.6 L1082.9,249 Z" fill="#fff" stroke="#000" stroke-width="1.6" stroke-linejoin="round"/><path d="M1028.2,220 L1081.8,248.6" fill="none" stroke="#000" stroke-width="3.2"/><path d="M1083.6,246.5 L1102.5,235.6" fill="none" stroke="#000" stroke-width="1"/><path d="M1039.1,217.6 L1053.5,209.4 L1080.8,226.4 L1069.2,234.6 Z" fill="none" stroke="#000" stroke-width="2.3" stroke-linejoin="round"/><path d="M1073.3,233.3 L1083.6,225.8 L1095.2,234.6 L1083.6,242.2 Z" fill="#000" stroke="#000" stroke-width="1.2"/><circle cx="1080.5" cy="231" r="0.6" fill="#fff"/><circle cx="1085" cy="229.5" r="0.6" fill="#fff"/><circle cx="1085.5" cy="234.5" r="0.6" fill="#fff"/><circle cx="1090" cy="233" r="0.6" fill="#fff"/><path d="M1139.1,281.4 L1157.8,294.2 L1181,281" fill="none" stroke="#000" stroke-width="3.4" stroke-linejoin="round"/><path d="M1139.1,281.4 Q1151,276 1158.2,267.7" fill="none" stroke="#000" stroke-width="2"/><path d="M1171,276.4 L1157.3,288.2" fill="none" stroke="#000" stroke-width="1.8"/><path d="M1142.5,282.2 L1157.5,291.5 L1176,281.5" fill="none" stroke="#000" stroke-width="0.9"/><path d="M1164.2,272.3 L1161.9,276" fill="none" stroke="#000" stroke-width="1.8"/><circle cx="1155.3" cy="283.3" r="2.1" fill="#000"/><polygon points="1228,330.2 1224.62,329.63 1224.62,324.43 1228,319.8 1231.38,320.37 1231.38,325.57" fill="#000" stroke="#000" stroke-width="1"/><ellipse cx="1228" cy="325" rx="1.3" ry="2.2" transform="rotate(25 1228 325)" fill="#fff"/><polygon points="1214,355.3 1210.62,354.73 1210.62,349.53 1214,344.9 1217.38,345.47 1217.38,350.67" fill="#000" stroke="#000" stroke-width="1"/><ellipse cx="1214" cy="350.1" rx="1.3" ry="2.2" transform="rotate(25 1214 350.1)" fill="#fff"/><g transform="matrix(0.706 0.408 0 0.815 833.34 -324.18)"><g transform="translate(179,679)"><path d="M-24.95,-58.5 L24.95,-58.5 A63.6,63.6 0 0 1 58.5,-24.95 L58.5,24.95 A63.6,63.6 0 0 1 24.95,58.5 L-24.95,58.5 A63.6,63.6 0 0 1 -58.5,24.95 L-58.5,-24.95 A63.6,63.6 0 0 1 -24.95,-58.5 Z" fill="none" stroke="#000" stroke-width="3.6"/><path d="M-24.08,-55.5 L24.08,-55.5 A60.5,60.5 0 0 1 55.5,-24.08 L55.5,24.08 A60.5,60.5 0 0 1 24.08,55.5 L-24.08,55.5 A60.5,60.5 0 0 1 -55.5,24.08 L-55.5,-24.08 A60.5,60.5 0 0 1 -24.08,-55.5 Z" fill="none" stroke="#000" stroke-width="1.8"/><circle r="53.5" fill="none" stroke="#000" stroke-width="3.0"/><circle r="47.5" fill="none" stroke="#000" stroke-width="4.2"/><circle r="36" fill="none" stroke="#000" stroke-width="4.2"/><circle r="27" fill="none" stroke="#000" stroke-width="3.8"/><circle r="23.8" fill="none" stroke="#000" stroke-width="1.6"/><line x1="0" y1="-26" x2="0" y2="-58.5" stroke="#000" stroke-width="4.2"/><line x1="0" y1="26" x2="0" y2="58.5" stroke="#000" stroke-width="4.2"/><line x1="26" y1="0" x2="58.5" y2="0" stroke="#000" stroke-width="3.4"/><line x1="-26" y1="0" x2="-58.5" y2="0" stroke="#000" stroke-width="3.4"/><line x1="33.61" y1="-12.9" x2="53.21" y2="-20.43" stroke="#000" stroke-width="2.8"/><line x1="33.61" y1="12.9" x2="53.21" y2="20.43" stroke="#000" stroke-width="2.8"/><line x1="-34.24" y1="11.12" x2="-54.21" y2="17.61" stroke="#000" stroke-width="2.8"/><line x1="-34.24" y1="-11.12" x2="-54.21" y2="-17.61" stroke="#000" stroke-width="2.8"/><line x1="17.61" y1="19.87" x2="39.88" y2="42.14" stroke="#000" stroke-width="4.2"/><line x1="19.87" y1="17.61" x2="42.14" y2="39.88" stroke="#000" stroke-width="4.2"/><line x1="-17.61" y1="-19.87" x2="-41.3" y2="-43.56" stroke="#000" stroke-width="4.2"/><line x1="-19.87" y1="-17.61" x2="-43.56" y2="-41.3" stroke="#000" stroke-width="4.2"/><line x1="15.49" y1="-22.12" x2="27.53" y2="-39.32" stroke="#000" stroke-width="2.6"/><line x1="15.49" y1="22.12" x2="27.53" y2="39.32" stroke="#000" stroke-width="2.6"/><line x1="20.01" y1="-17.47" x2="42.28" y2="-39.74" stroke="#000" stroke-width="2.4"/><line x1="17.47" y1="-20.01" x2="39.74" y2="-42.28" stroke="#000" stroke-width="2.4"/><line x1="-18.74" y1="18.74" x2="-42.43" y2="42.43" stroke="#000" stroke-width="3.0"/><line x1="-16.62" y1="20.86" x2="-40.31" y2="44.55" stroke="#000" stroke-width="2.0"/></g><ellipse cx="126" cy="625.6" rx="5" ry="5.8" fill="#000"/><ellipse cx="126" cy="732" rx="5" ry="5.8" fill="#000"/><ellipse cx="232.5" cy="625.6" rx="5" ry="5.8" fill="#000"/><ellipse cx="232.5" cy="732" rx="5" ry="5.8" fill="#000"/><g transform="translate(310.7,679)"><path d="M-24.95,-58.5 L24.95,-58.5 A63.6,63.6 0 0 1 58.5,-24.95 L58.5,24.95 A63.6,63.6 0 0 1 24.95,58.5 L-24.95,58.5 A63.6,63.6 0 0 1 -58.5,24.95 L-58.5,-24.95 A63.6,63.6 0 0 1 -24.95,-58.5 Z" fill="none" stroke="#000" stroke-width="3.6"/><path d="M-24.08,-55.5 L24.08,-55.5 A60.5,60.5 0 0 1 55.5,-24.08 L55.5,24.08 A60.5,60.5 0 0 1 24.08,55.5 L-24.08,55.5 A60.5,60.5 0 0 1 -55.5,24.08 L-55.5,-24.08 A60.5,60.5 0 0 1 -24.08,-55.5 Z" fill="none" stroke="#000" stroke-width="1.8"/><circle r="53.5" fill="none" stroke="#000" stroke-width="3.0"/><circle r="47.5" fill="none" stroke="#000" stroke-width="4.2"/><circle r="36" fill="none" stroke="#000" stroke-width="4.2"/><circle r="27" fill="none" stroke="#000" stroke-width="3.8"/><circle r="23.8" fill="none" stroke="#000" stroke-width="1.6"/><line x1="0" y1="-26" x2="0" y2="-58.5" stroke="#000" stroke-width="4.2"/><line x1="0" y1="26" x2="0" y2="58.5" stroke="#000" stroke-width="4.2"/><line x1="26" y1="0" x2="58.5" y2="0" stroke="#000" stroke-width="3.4"/><line x1="-26" y1="0" x2="-58.5" y2="0" stroke="#000" stroke-width="3.4"/><line x1="33.61" y1="-12.9" x2="53.21" y2="-20.43" stroke="#000" stroke-width="2.8"/><line x1="33.61" y1="12.9" x2="53.21" y2="20.43" stroke="#000" stroke-width="2.8"/><line x1="-34.24" y1="11.12" x2="-54.21" y2="17.61" stroke="#000" stroke-width="2.8"/><line x1="-34.24" y1="-11.12" x2="-54.21" y2="-17.61" stroke="#000" stroke-width="2.8"/><line x1="17.61" y1="19.87" x2="39.88" y2="42.14" stroke="#000" stroke-width="4.2"/><line x1="19.87" y1="17.61" x2="42.14" y2="39.88" stroke="#000" stroke-width="4.2"/><line x1="-17.61" y1="-19.87" x2="-41.3" y2="-43.56" stroke="#000" stroke-width="4.2"/><line x1="-19.87" y1="-17.61" x2="-43.56" y2="-41.3" stroke="#000" stroke-width="4.2"/><line x1="15.49" y1="-22.12" x2="27.53" y2="-39.32" stroke="#000" stroke-width="2.6"/><line x1="15.49" y1="22.12" x2="27.53" y2="39.32" stroke="#000" stroke-width="2.6"/><line x1="20.01" y1="-17.47" x2="42.28" y2="-39.74" stroke="#000" stroke-width="2.4"/><line x1="17.47" y1="-20.01" x2="39.74" y2="-42.28" stroke="#000" stroke-width="2.4"/><line x1="-18.74" y1="18.74" x2="-42.43" y2="42.43" stroke="#000" stroke-width="3.0"/><line x1="-16.62" y1="20.86" x2="-40.31" y2="44.55" stroke="#000" stroke-width="2.0"/></g><ellipse cx="257.7" cy="625.6" rx="5" ry="5.8" fill="#000"/><ellipse cx="257.7" cy="732" rx="5" ry="5.8" fill="#000"/><ellipse cx="364.2" cy="625.6" rx="5" ry="5.8" fill="#000"/><ellipse cx="364.2" cy="732" rx="5" ry="5.8" fill="#000"/><g transform="translate(442.3,679)"><path d="M-24.95,-58.5 L24.95,-58.5 A63.6,63.6 0 0 1 58.5,-24.95 L58.5,24.95 A63.6,63.6 0 0 1 24.95,58.5 L-24.95,58.5 A63.6,63.6 0 0 1 -58.5,24.95 L-58.5,-24.95 A63.6,63.6 0 0 1 -24.95,-58.5 Z" fill="none" stroke="#000" stroke-width="3.6"/><path d="M-24.08,-55.5 L24.08,-55.5 A60.5,60.5 0 0 1 55.5,-24.08 L55.5,24.08 A60.5,60.5 0 0 1 24.08,55.5 L-24.08,55.5 A60.5,60.5 0 0 1 -55.5,24.08 L-55.5,-24.08 A60.5,60.5 0 0 1 -24.08,-55.5 Z" fill="none" stroke="#000" stroke-width="1.8"/><circle r="53.5" fill="none" stroke="#000" stroke-width="3.0"/><circle r="47.5" fill="none" stroke="#000" stroke-width="4.2"/><circle r="36" fill="none" stroke="#000" stroke-width="4.2"/><circle r="27" fill="none" stroke="#000" stroke-width="3.8"/><circle r="23.8" fill="none" stroke="#000" stroke-width="1.6"/><line x1="0" y1="-26" x2="0" y2="-58.5" stroke="#000" stroke-width="4.2"/><line x1="0" y1="26" x2="0" y2="58.5" stroke="#000" stroke-width="4.2"/><line x1="26" y1="0" x2="58.5" y2="0" stroke="#000" stroke-width="3.4"/><line x1="-26" y1="0" x2="-58.5" y2="0" stroke="#000" stroke-width="3.4"/><line x1="33.61" y1="-12.9" x2="53.21" y2="-20.43" stroke="#000" stroke-width="2.8"/><line x1="33.61" y1="12.9" x2="53.21" y2="20.43" stroke="#000" stroke-width="2.8"/><line x1="-34.24" y1="11.12" x2="-54.21" y2="17.61" stroke="#000" stroke-width="2.8"/><line x1="-34.24" y1="-11.12" x2="-54.21" y2="-17.61" stroke="#000" stroke-width="2.8"/><line x1="17.61" y1="19.87" x2="39.88" y2="42.14" stroke="#000" stroke-width="4.2"/><line x1="19.87" y1="17.61" x2="42.14" y2="39.88" stroke="#000" stroke-width="4.2"/><line x1="-17.61" y1="-19.87" x2="-41.3" y2="-43.56" stroke="#000" stroke-width="4.2"/><line x1="-19.87" y1="-17.61" x2="-43.56" y2="-41.3" stroke="#000" stroke-width="4.2"/><line x1="15.49" y1="-22.12" x2="27.53" y2="-39.32" stroke="#000" stroke-width="2.6"/><line x1="15.49" y1="22.12" x2="27.53" y2="39.32" stroke="#000" stroke-width="2.6"/><line x1="20.01" y1="-17.47" x2="42.28" y2="-39.74" stroke="#000" stroke-width="2.4"/><line x1="17.47" y1="-20.01" x2="39.74" y2="-42.28" stroke="#000" stroke-width="2.4"/><line x1="-18.74" y1="18.74" x2="-42.43" y2="42.43" stroke="#000" stroke-width="3.0"/><line x1="-16.62" y1="20.86" x2="-40.31" y2="44.55" stroke="#000" stroke-width="2.0"/></g><ellipse cx="389.3" cy="625.6" rx="5" ry="5.8" fill="#000"/><ellipse cx="389.3" cy="732" rx="5" ry="5.8" fill="#000"/><ellipse cx="495.8" cy="625.6" rx="5" ry="5.8" fill="#000"/><ellipse cx="495.8" cy="732" rx="5" ry="5.8" fill="#000"/><ellipse cx="179.4" cy="569.8" rx="5" ry="5.8" fill="#000"/><circle cx="108.4" cy="618" r="4" fill="none" stroke="#000" stroke-width="3"/><circle cx="108.4" cy="739.6" r="4" fill="none" stroke="#000" stroke-width="3"/><circle cx="513.4" cy="618" r="4" fill="none" stroke="#000" stroke-width="3"/><circle cx="513.4" cy="739.6" r="4" fill="none" stroke="#000" stroke-width="3"/></g><path d="M1207.7,401.5 L1266.6,368.7 L1266.6,407.1 L1208.7,438.9 Z" fill="#fff" stroke="#000" stroke-width="2" stroke-linejoin="round"/><path d="M1266.6,368.7 L1270.7,369.2 L1286,379.5 V413.3 L1270.7,408.2 L1266.6,407.1" fill="#fff" stroke="#000" stroke-width="2" stroke-linejoin="round"/><line x1="1268.4" y1="369.5" x2="1268.4" y2="407.5" stroke="#000" stroke-width="1.1"/><ellipse cx="1215.4" cy="408.7" rx="2.8" ry="3.4" fill="#000"/><ellipse cx="1229.7" cy="401" rx="2.8" ry="3.4" fill="#000"/><ellipse cx="1215.4" cy="425.6" rx="2.8" ry="3.4" fill="#000"/><ellipse cx="1229.7" cy="417.4" rx="2.8" ry="3.4" fill="#000"/><rect x="1238.5" y="390.5" width="11" height="4.6" rx="2.3" transform="rotate(-30 1244 392.8)" fill="none" stroke="#000" stroke-width="1.8"/><rect x="1252.9" y="382.3" width="11" height="4.6" rx="2.3" transform="rotate(-30 1258.4 384.6)" fill="none" stroke="#000" stroke-width="1.8"/><rect x="1238.5" y="406.9" width="11" height="4.6" rx="2.3" transform="rotate(-30 1244 409.2)" fill="none" stroke="#000" stroke-width="1.8"/><rect x="1252.9" y="398.7" width="11" height="4.6" rx="2.3" transform="rotate(-30 1258.4 401)" fill="none" stroke="#000" stroke-width="1.8"/><ellipse cx="1279.9" cy="379.5" rx="4" ry="3.3" transform="rotate(30 1279.9 379.5)" fill="none" stroke="#000" stroke-width="2.8"/><circle cx="1277.9" cy="392.8" r="1.8" fill="#000"/><ellipse cx="1278.9" cy="407.1" rx="4" ry="3.3" transform="rotate(30 1278.9 407.1)" fill="none" stroke="#000" stroke-width="2.8"/><path d="M1274.7,369 V223.7 L1297.5,234.9 L1306.6,230.2 V213.3 L1319,206.2 L1319.8,207.5 V557 L1296.4,568.8 L1274.7,557 V414" fill="none" stroke="#000" stroke-width="2.2" stroke-linejoin="round"/><line x1="1295.5" y1="234.9" x2="1295.5" y2="568" stroke="#000" stroke-width="1.3"/><line x1="1301" y1="232" x2="1301" y2="566" stroke="#000" stroke-width="1.3"/><line x1="1276.4" y1="225" x2="1276.4" y2="556" stroke="#000" stroke-width="1"/><path d="M1297.5,234.9 L1319,222.9" fill="none" stroke="#000" stroke-width="2"/><path d="M1308.5,216 L1315,212.5 V219 Z M1307,217 L1318,221" fill="none" stroke="#000" stroke-width="1.4"/><ellipse cx="1310.4" cy="248.4" rx="2.6" ry="4" transform="rotate(30 1310.4 248.4)" fill="none" stroke="#000" stroke-width="1.8"/><ellipse cx="1310.3" cy="543.9" rx="2.6" ry="4" transform="rotate(30 1310.3 543.9)" fill="none" stroke="#000" stroke-width="1.8"/><path d="M1278.2,229.2 L1284,232.2 V239.2 L1278.2,236.2 Z" fill="none" stroke="#000" stroke-width="2.4"/><path d="M1278.2,242.5 L1284,245.5 V252.5 L1278.2,249.5 Z" fill="none" stroke="#000" stroke-width="2.4"/><path d="M1278.2,255.8 L1284,258.8 V265.8 L1278.2,262.8 Z" fill="none" stroke="#000" stroke-width="2.4"/><path d="M1278.2,266 L1284,269 V276 L1278.2,273 Z" fill="none" stroke="#000" stroke-width="2.4"/><path d="M1278.2,279.3 L1284,282.3 V289.3 L1278.2,286.3 Z" fill="none" stroke="#000" stroke-width="2.4"/><path d="M1278.2,292.6 L1284,295.6 V302.6 L1278.2,299.6 Z" fill="none" stroke="#000" stroke-width="2.4"/><path d="M1278.2,302.8 L1284,305.8 V312.8 L1278.2,309.8 Z" fill="none" stroke="#000" stroke-width="2.4"/><path d="M1278.2,316.1 L1284,319.1 V326.1 L1278.2,323.1 Z" fill="none" stroke="#000" stroke-width="2.4"/><path d="M1278.2,329.4 L1284,332.4 V339.4 L1278.2,336.4 Z" fill="none" stroke="#000" stroke-width="2.4"/><path d="M1278.2,339.6 L1284,342.6 V349.6 L1278.2,346.6 Z" fill="none" stroke="#000" stroke-width="2.4"/><path d="M1278.2,352.9 L1284,355.9 V362.9 L1278.2,359.9 Z" fill="none" stroke="#000" stroke-width="2.4"/><path d="M1278.2,426.5 L1284,429.5 V436.5 L1278.2,433.5 Z" fill="none" stroke="#000" stroke-width="2.4"/><path d="M1278.2,439.8 L1284,442.8 V449.8 L1278.2,446.8 Z" fill="none" stroke="#000" stroke-width="2.4"/><path d="M1278.2,450 L1284,453 V460 L1278.2,457 Z" fill="none" stroke="#000" stroke-width="2.4"/><path d="M1278.2,463.3 L1284,466.3 V473.3 L1278.2,470.3 Z" fill="none" stroke="#000" stroke-width="2.4"/><path d="M1278.2,476.6 L1284,479.6 V486.6 L1278.2,483.6 Z" fill="none" stroke="#000" stroke-width="2.4"/><path d="M1278.2,486.8 L1284,489.8 V496.8 L1278.2,493.8 Z" fill="none" stroke="#000" stroke-width="2.4"/><path d="M1278.2,500.1 L1284,503.1 V510.1 L1278.2,507.1 Z" fill="none" stroke="#000" stroke-width="2.4"/><path d="M1278.2,513.4 L1284,516.4 V523.4 L1278.2,520.4 Z" fill="none" stroke="#000" stroke-width="2.4"/><path d="M1278.2,523.6 L1284,526.6 V533.6 L1278.2,530.6 Z" fill="none" stroke="#000" stroke-width="2.4"/><path d="M1278.2,536.9 L1284,539.9 V546.9 L1278.2,543.9 Z" fill="none" stroke="#000" stroke-width="2.4"/><path d="M1278.2,550.2 L1284,553.2 V560.2 L1278.2,557.2 Z" fill="none" stroke="#000" stroke-width="2.4"/></svg></body></html>
